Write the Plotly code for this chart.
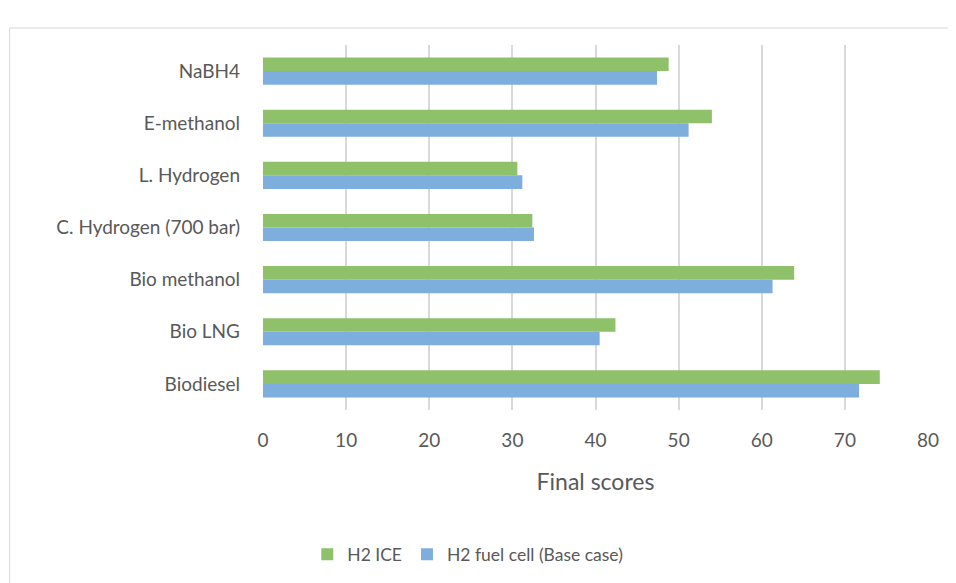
import plotly.graph_objects as go

fuels = ["Biodiesel", "Bio LNG", "Bio methanol", "C. Hydrogen (700 bar)",
         "L. Hydrogen", "E-methanol", "NaBH4"]
fuel_cell = [71.7, 40.5, 61.3, 32.6, 31.2, 51.2, 47.4]
ice = [74.2, 42.4, 63.9, 32.4, 30.6, 54.0, 48.8]

GREEN = "#8EC16A"
BLUE = "#7DAEDE"
TEXT = "#595959"
GRID = "#D9D9D9"

fig = go.Figure()
fig.add_trace(go.Bar(
    y=fuels, x=fuel_cell, orientation="h", name="H2 fuel cell (Base case)",
    marker=dict(color=BLUE, line=dict(width=0)),
))
fig.add_trace(go.Bar(
    y=fuels, x=ice, orientation="h", name="H2 ICE",
    marker=dict(color=GREEN, line=dict(width=0)),
))

# chart border (Excel-style frame)
fig.add_shape(type="rect", xref="paper", yref="paper",
              x0=-0.381, x1=1.06, y0=-0.5, y1=1.0466,
              line=dict(color=GRID, width=1), layer="below")

# page body has an 8px margin, so the figure is sized/offset to compensate
fig.update_layout(
    width=948, height=575,
    barmode="group", bargap=0.48, bargroupgap=0,
    plot_bgcolor="white", paper_bgcolor="white",
    font=dict(family="Lato, Carlito, sans-serif", size=19, color=TEXT),
    margin=dict(l=255, r=28, t=37, b=173),
    xaxis=dict(
        range=[0, 80], dtick=10, showgrid=True, gridcolor=GRID, gridwidth=1.5,
        zeroline=False, showline=False, ticks="", ticklabelstandoff=17,
        tickfont=dict(size=19),
        title=dict(text="Final scores", standoff=23, font=dict(size=23, color=TEXT)),
    ),
    yaxis=dict(
        showgrid=False, zeroline=False, showline=False, ticks="",
        ticklabelstandoff=22, tickfont=dict(size=19),
    ),
    legend=dict(
        orientation="h", traceorder="reversed",
        xref="container", yref="container",
        x=0.485, xanchor="center", y=0.05, yanchor="middle",
        font=dict(size=17.5, color=TEXT),
    ),
    showlegend=True,
)

fig.write_html("out.html")
